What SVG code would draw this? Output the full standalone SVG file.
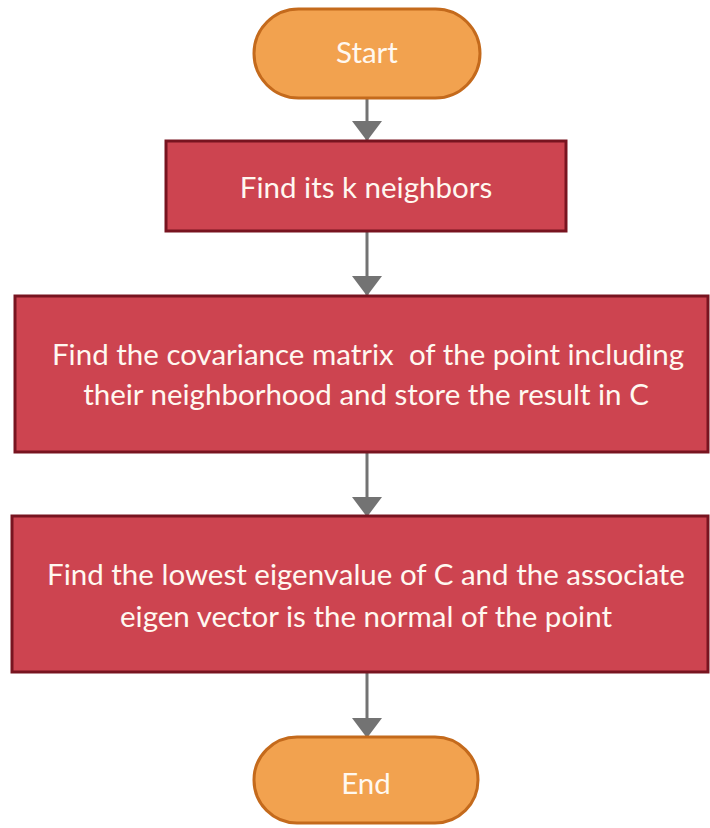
<svg xmlns="http://www.w3.org/2000/svg" width="710" height="828" viewBox="0 0 710 828">
<defs>
<style>
.term{fill:#f2a24f;stroke:#c46a1c;stroke-width:3}
.proc{fill:#cd4450;stroke:#781420;stroke-width:3}
.t{fill:#fff8f0;font-family:Lato,"Liberation Sans",sans-serif;font-size:29.5px;text-anchor:middle}
.conn{stroke:#737373;stroke-width:3;fill:none}
</style>
<marker id="ah" markerWidth="20" markerHeight="30" refX="19" refY="15" orient="auto" markerUnits="userSpaceOnUse">
<path d="M0,0 L20,15 L0,30 Z" fill="#737373"/>
</marker>
</defs>
<rect width="710" height="828" fill="#ffffff"/>
<g id="connectors">
<line class="conn" x1="367" y1="98" x2="367" y2="140" marker-end="url(#ah)"/>
<line class="conn" x1="367" y1="231" x2="367" y2="295" marker-end="url(#ah)"/>
<line class="conn" x1="367" y1="452" x2="367" y2="516" marker-end="url(#ah)"/>
<line class="conn" x1="367" y1="672" x2="367" y2="737" marker-end="url(#ah)"/>
</g>
<g id="start">
<rect class="term" x="254" y="9" width="226" height="89" rx="44.5"/>
<text class="t" x="367" y="63">Start</text>
</g>
<g id="neighbors">
<rect class="proc" x="166" y="141" width="400" height="90"/>
<text class="t" x="366" y="198">Find its k neighbors</text>
</g>
<g id="covariance">
<rect class="proc" x="15" y="296" width="693" height="156"/>
<text class="t" x="368" y="365">Find the covariance matrix&#160; of the point including</text>
<text class="t" x="366" y="405">their neighborhood and store the result in C</text>
</g>
<g id="eigen">
<rect class="proc" x="12" y="516" width="696" height="156"/>
<text class="t" x="366" y="585">Find the lowest eigenvalue of C and the associate</text>
<text class="t" x="366" y="627">eigen vector is the normal of the point</text>
</g>
<g id="end">
<rect class="term" x="254" y="737" width="224" height="86" rx="43"/>
<text class="t" x="366" y="794">End</text>
</g>
</svg>
